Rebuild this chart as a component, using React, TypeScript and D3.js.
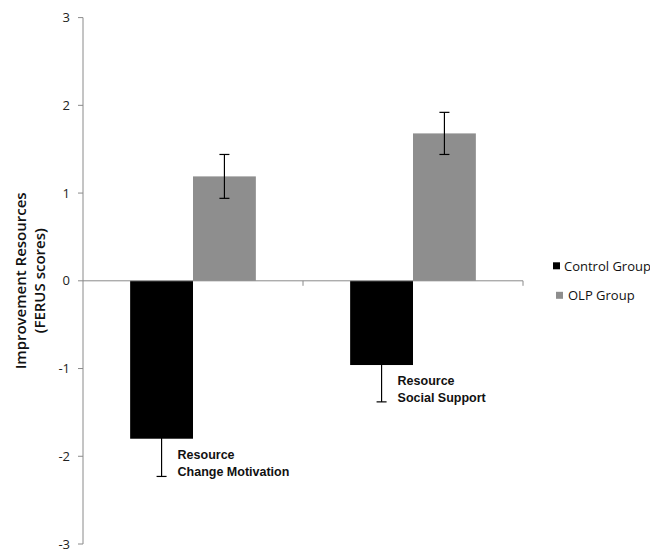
import React from 'react';
import * as d3 from 'd3';

const categories = ['Resource Change Motivation', 'Resource Social Support'];
const categoryLabels = [['Resource', 'Change Motivation'], ['Resource', 'Social Support']];
const groups = ['Control Group', 'OLP Group'];
const controlMeans = [-1.8, -0.96];
const controlErrors = [0.43, 0.42];
const olpMeans = [1.19, 1.68];
const olpErrors = [0.25, 0.24];
const yTicks = [-3, -2, -1, 0, 1, 2, 3];

const colors = ['#000000', '#8e8e8e'];

const App = () => {
  const width = 650;
  const height = 552;
  const margin = { top: 17.6, left: 83, right: 127, bottom: 8 };

  const x = d3.scaleBand<string>()
    .domain(categories)
    .range([margin.left, width - margin.right]);

  const inner = d3.scaleBand<string>()
    .domain(groups)
    .range([0, x.bandwidth()])
    .paddingOuter(0.75)
    .paddingInner(0);

  const y = d3.scaleLinear().domain([-3, 3]).range([544, margin.top]);

  const series = [
    { name: groups[0], means: controlMeans, errors: controlErrors, color: colors[0] },
    { name: groups[1], means: olpMeans, errors: olpErrors, color: colors[1] },
  ];

  const axisColor = '#8a8a8a';
  const tickFont = '"Open Sans", "Liberation Sans", sans-serif';

  return (
    <svg width={width} height={height} style={{ position: 'absolute', left: 0, top: 0, background: '#fff' }}>
      {/* y axis */}
      <line x1={margin.left} x2={margin.left} y1={y(3)} y2={y(-3)} stroke={axisColor} strokeWidth={1} />
      {yTicks.map(t => (
        <g key={t}>
          <line x1={margin.left - 5} x2={margin.left} y1={y(t)} y2={y(t)} stroke={axisColor} />
          <text x={margin.left - 13} y={y(t)} dy="0.35em" textAnchor="end" fontSize={13} fontFamily={tickFont} fill="#222">
            {t}
          </text>
        </g>
      ))}

      {/* bars */}
      {series.map(s => s.means.map((m, i) => {
        const cx = (x(categories[i]) ?? 0) + (inner(s.name) ?? 0);
        const y0 = y(Math.max(0, m));
        const y1 = y(Math.min(0, m));
        return (
          <rect key={s.name + i} x={cx} y={y0} width={inner.bandwidth()} height={y1 - y0} fill={s.color} />
        );
      }))}

      {/* zero line and category ticks */}
      <line x1={margin.left} x2={width - margin.right} y1={y(0)} y2={y(0)} stroke={axisColor} />
      {categories.map(c => (
        <line key={c} x1={(x(c) ?? 0) + x.bandwidth()} x2={(x(c) ?? 0) + x.bandwidth()} y1={y(0)} y2={y(0) + 5} stroke={axisColor} />
      ))}

      {/* error bars */}
      {series.map(s => s.means.map((m, i) => {
        const cx = (x(categories[i]) ?? 0) + (inner(s.name) ?? 0) + inner.bandwidth() / 2;
        const hi = y(m + s.errors[i]);
        const lo = y(m - s.errors[i]);
        return (
          <g key={'e' + s.name + i} stroke="#000" strokeWidth={1.2}>
            <line x1={cx} x2={cx} y1={hi} y2={lo} />
            <line x1={cx - 5} x2={cx + 5} y1={hi} y2={hi} />
            <line x1={cx - 5} x2={cx + 5} y1={lo} y2={lo} />
          </g>
        );
      }))}

      {/* category annotations */}
      {categoryLabels.map((lines, i) => {
        const bx = (x(categories[i]) ?? 0) + (inner(groups[0]) ?? 0) + inner.bandwidth() / 2 + 16;
        const by = y(controlMeans[i] - controlErrors[i]) - 17;
        return (
          <text key={'l' + i} x={bx} y={by} fontSize={12.5} fontWeight="bold" fontFamily='"Liberation Sans", Arial, sans-serif' fill="#111">
            {lines.map((l, j) => (
              <tspan key={j} x={bx} dy={j === 0 ? 0 : 17}>{l}</tspan>
            ))}
          </text>
        );
      })}

      {/* y title */}
      <text transform={`translate(26, ${y(0)}) rotate(-90)`} textAnchor="middle" fontSize={15} fontWeight={600} fontFamily={tickFont} fill="#111">
        <tspan x={0} dy={0}>Improvement Resources</tspan>
        <tspan x={0} dy={19}>(FERUS scores)</tspan>
      </text>

      {/* legend */}
      {groups.map((g, i) => (
        <g key={g} transform={`translate(${553 + i * 3}, ${y(0) - 18.5 + i * 29.5})`}>
          <rect x={0} y={0} width={7} height={7} fill={colors[i]} />
          <text x={11 + i * 1} y={4} dy="0.35em" fontSize={13} fontFamily={tickFont} fill="#111">{g}</text>
        </g>
      ))}
    </svg>
  );
};

export default App;
